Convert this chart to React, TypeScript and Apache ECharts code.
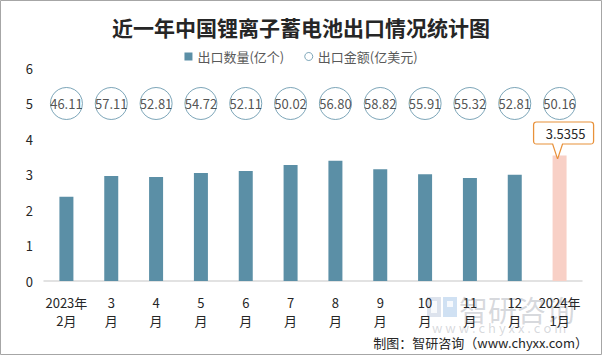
import React, { useEffect, useRef } from "react";
import * as echarts from "echarts";

const categories = ["2023年\n2月", "3\n月", "4\n月", "5\n月", "6\n月", "7\n月", "8\n月", "9\n月", "10\n月", "11\n月", "12\n月", "2024年\n1月"];
const quantity = [2.37, 2.96, 2.93, 3.04, 3.1, 3.27, 3.39, 3.15, 3.01, 2.9, 2.99, 3.5355];
const amount = ["46.11", "57.11", "52.81", "54.72", "52.11", "50.02", "56.80", "58.82", "55.91", "55.32", "52.81", "50.16"];
const circleRow = 5;
const yTicks = [0, 1, 2, 3, 4, 5, 6];

const FONT = "'Noto Sans CJK SC', 'Microsoft YaHei', sans-serif";
const BAR = "#5b8fa6";
const HIGHLIGHT = "#f8d0c6";
const CALLOUT = "M3,0 H57 Q60,0 60,3 V19 Q60,22 57,22 H29 L24,37 L19,22 H3 Q0,22 0,19 V3 Q0,0 3,0 Z";

export default function App() {
  const ref = useRef<HTMLDivElement>(null);
  useEffect(() => {
    if (!ref.current) return;
    const chart = echarts.init(ref.current, null, { renderer: "svg" });
    const last = quantity.length - 1;
    chart.setOption({
      animation: false,
      backgroundColor: "#fff",
      textStyle: { fontFamily: FONT },
      title: {
        text: "近一年中国锂离子蓄电池出口情况统计图",
        left: "center",
        top: 11,
        textStyle: { fontSize: 21, fontWeight: "bold", color: "#262626", fontFamily: FONT },
      },
      legend: {
        top: 45,
        left: "center",
        itemWidth: 8,
        itemHeight: 8,
        itemGap: 20,
        textStyle: { fontSize: 13, color: "#595959", fontFamily: FONT },
        data: [
          { name: "出口数量(亿个)", icon: "rect" },
          { name: "出口金额(亿美元)", icon: "circle", itemStyle: { color: "#fff", borderColor: BAR, borderWidth: 1 } },
        ],
      },
      grid: { left: 44, right: 20, top: 68, bottom: 74 },
      xAxis: {
        type: "category",
        data: categories,
        axisLine: { lineStyle: { color: "#d9d9d9", width: 1.5 } },
        axisTick: { show: false },
        axisLabel: { color: "#262626", fontSize: 13, lineHeight: 18, margin: 12, interval: 0 },
      },
      yAxis: {
        type: "value",
        min: yTicks[0],
        max: yTicks[yTicks.length - 1],
        interval: 1,
        splitLine: { show: false },
        axisLine: { show: false },
        axisTick: { show: false },
        axisLabel: { color: "#262626", fontSize: 13, margin: 11 },
      },
      series: [
        {
          name: "出口数量(亿个)",
          type: "bar",
          barWidth: 14,
          itemStyle: { color: BAR },
          data: quantity.map((v, i) => (i === last ? { value: v, itemStyle: { color: HIGHLIGHT } } : v)),
          markPoint: {
            symbol: "path://" + CALLOUT,
            symbolSize: [60, 37],
            symbolKeepAspect: false,
            symbolOffset: [4, -15],
            itemStyle: { color: "#fff", borderColor: "#e8913a", borderWidth: 1 },
            label: {
              show: true,
              formatter: String(quantity[last]),
              color: "#262626",
              fontSize: 13,
              offset: [2, -7],
            },
            data: [{ coord: [last, quantity[last]], value: quantity[last] }],
          },
        },
        {
          name: "出口金额(亿美元)",
          type: "scatter",
          symbol: "circle",
          symbolSize: 32,
          itemStyle: { color: "#fff", borderColor: BAR, borderWidth: 1 },
          label: {
            show: true,
            position: "inside",
            color: "#262626",
            fontSize: 13,
            formatter: (p: any) => amount[p.dataIndex],
          },
          data: amount.map((_, i) => [i, circleRow]),
          z: 3,
        },
      ],
      graphic: [
        {
          type: "rect",
          shape: { x: 0.5, y: 0.5, width: 601, height: 354 },
          style: { fill: "none", stroke: "#a6a6a6", lineWidth: 1 },
          silent: true,
        },
        {
          type: "group",
          left: 427,
          top: 297,
          silent: true,
          z: 0,
          children: [
            { type: "rect", shape: { x: 0, y: 0, width: 14, height: 20 }, style: { fill: "rgba(170,185,210,0.4)" } },
            { type: "rect", shape: { x: 16, y: 0, width: 14, height: 20 }, style: { fill: "rgba(120,170,220,0.35)" } },
            { type: "rect", shape: { x: 4, y: 4, width: 6, height: 12 }, style: { fill: "rgba(255,255,255,0.8)" } },
            { type: "rect", shape: { x: 20, y: 4, width: 6, height: 6 }, style: { fill: "rgba(255,255,255,0.8)" } },
          ],
        },
        {
          type: "text",
          left: 459,
          top: 294,
          silent: true,
          z: 0,
          style: { text: "智研咨询", fontSize: 29, fill: "rgba(150,155,165,0.38)", fontFamily: FONT },
        },
        {
          type: "text",
          left: 432,
          top: 321,
          silent: true,
          z: 0,
          style: { text: "w w w . c h y x x . c o m", fontSize: 13, fill: "rgba(150,155,165,0.38)", fontFamily: FONT },
        },
        {
          type: "text",
          right: 14,
          top: 336,
          silent: true,
          z: 11,
          style: { text: "制图：智研咨询（www.chyxx.com）", fontSize: 13, fill: "#262626", fontFamily: FONT },
        },
      ],
    });
    return () => chart.dispose();
  }, []);
  return <div ref={ref} style={{ position: "absolute", left: 0, top: 0, width: 602, height: 355 }} />;
}
